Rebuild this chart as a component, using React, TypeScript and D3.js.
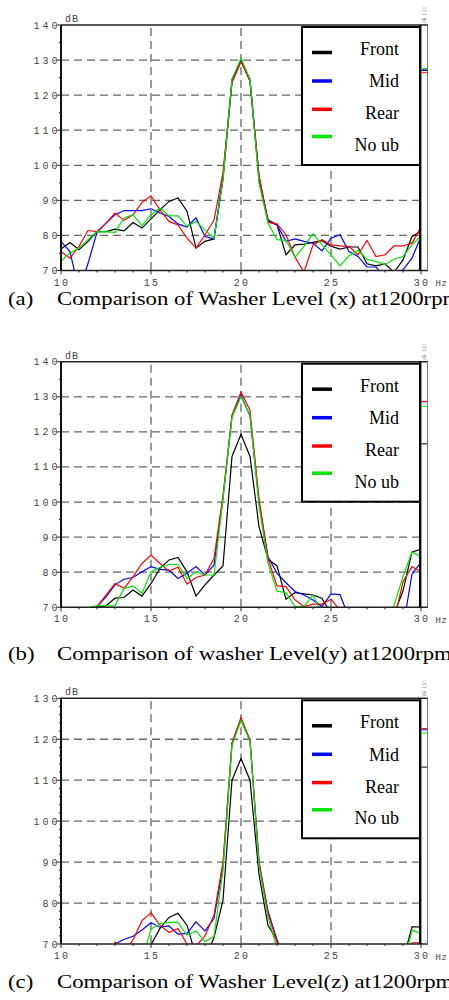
import React from "react";
import * as d3 from "d3";

// frequency bins (Hz)
const HZ = [10, 10.5, 11, 11.5, 12, 12.5, 13, 13.5, 14, 14.5, 15, 15.5, 16, 16.5, 17, 17.5, 18, 18.5, 19, 19.5,
  20, 20.5, 21, 21.5, 22, 22.5, 23, 23.5, 24, 24.5, 25, 25.5, 26, 26.5, 27, 27.5, 28, 28.5, 29, 29.5, 30];

// (a) level x, dB
const frontX = [76.1, 78, 75.9, 78.3, 81.1, 81.1, 81.8, 81.3, 83.7, 82.1, 84.7, 87.3, 89.7, 90.7, 86.9, 76.4, 78.3, 79, 96, 124,
  130, 124, 96, 84.5, 83, 74.5, 77.3, 77.5, 78, 78.5, 76.9, 76.1, 76.7, 76.7, 71.9, 71.3, 71.9, 69.5, 73, 79.7, 81.1];
const midX = [78.3, 75.4, 64, 72, 80.9, 83.5, 85.9, 87.1, 87.1, 87.1, 87.6, 86.4, 85.4, 83.3, 82.4, 85, 79.7, 79, 97, 124.5,
  130, 124.5, 97, 84, 83, 78.3, 79, 78.3, 77.8, 75.6, 79.2, 80.2, 75.4, 74, 71, 71, 68, 68.8, 70.2, 73.5, 79.7];
const rearX = [75.4, 73.5, 76.9, 81.4, 81.1, 83.5, 86.4, 84.3, 85.9, 89.4, 91.3, 87.3, 84, 83, 79.2, 76.4, 80.2, 84.3, 98, 123.5,
  129.5, 124, 97, 83.7, 83.3, 80.2, 73.8, 69.5, 77.3, 78.8, 77.3, 77, 76.9, 74.5, 78.6, 74, 74.5, 77, 77, 77.8, 82.4];
const noubX = [72.6, 75, 76.4, 78.8, 81.1, 81, 80.9, 85, 85.9, 82.8, 85.9, 87.8, 85.6, 85.6, 82.6, 84, 81.6, 79.2, 96, 124.5,
  130.5, 124.5, 95, 83.5, 78.8, 78.6, 73.8, 76.9, 80.5, 77.3, 74.5, 71.3, 74.2, 75.7, 73.2, 72.6, 71.6, 73.2, 74, 77.3, 79.9];

// (b) level y, dB
const frontY = [64, 65, 66, 68, 70, 70.4, 72.6, 72.8, 74.9, 73.2, 76.8, 81.1, 83.5, 84.2, 80.1, 73.2, 76.4, 79.2, 81.8, 113,
  119.3, 113, 93, 83.7, 81.8, 72.3, 74.2, 73.8, 73.5, 72.6, 68, 64, 62, 62, 62, 62, 62, 68, 74.7, 85.8, 86.5];
const midY = [62, 63, 64, 66, 70.2, 73, 76.4, 78, 78.5, 80.1, 81.6, 80.8, 80.6, 78.2, 79.7, 81.6, 79.2, 82, 101, 124.5,
  130.5, 124.5, 100, 84.4, 79.7, 77, 74.5, 73.5, 72.1, 70.2, 73.8, 73.6, 67, 62, 62, 62, 62, 62, 64, 79.5, 82.8];
const rearY = [62, 63, 64, 66, 70.2, 73.5, 76.8, 75.4, 78.7, 82.5, 84.9, 82.5, 80.3, 81.4, 76.6, 78.5, 79.2, 83.9, 102, 124.8,
  131.4, 126.2, 101, 83.9, 76.1, 75.9, 72.1, 70.2, 70.9, 70.9, 72.3, 69.2, 64, 62, 62, 62, 62, 66, 77.3, 81.6, 80.1];
const noubY = [62, 63, 64, 69.8, 70.5, 70.4, 70.5, 75.4, 76.1, 74, 80.1, 81.4, 82.2, 82.2, 78.2, 80.1, 79.2, 79.2, 101, 124.2,
  130, 124.8, 99, 82.5, 74.6, 74.2, 70.2, 70.2, 73.5, 68, 64, 62, 62, 62, 62, 62, 67, 70.5, 78.7, 85.8, 84.4];

// (c) level z, dB
const frontZ = [60, 60, 60, 60, 60, 60, 60, 60, 62, 64, 69.8, 73.8, 76.5, 77.5, 74.6, 67, 66, 71.6, 80.7, 110,
  115.3, 110, 87, 74.5, 71, 65, 60, 60, 60, 60, 60, 60, 60, 60, 60, 60, 60, 60, 66, 74.2, 74.2];
const midZ = [60, 60, 60, 60, 60, 62, 70, 71.1, 71.9, 73.4, 75.2, 74.1, 74.4, 72.4, 72.6, 75.4, 73.2, 76.2, 89, 119,
  124.8, 119.8, 90, 78, 71, 62, 60, 60, 60, 60, 60, 60, 60, 60, 60, 60, 60, 60, 60, 66, 70.2];
const rearZ = [60, 60, 60, 60, 60, 62, 70.5, 68, 71, 75.7, 77.6, 74.6, 72.8, 73.8, 70, 69.5, 72, 77.1, 90, 119.1,
  125.3, 119.8, 90, 77.5, 70.5, 64, 60, 60, 60, 60, 60, 60, 60, 60, 60, 60, 60, 60, 64, 70.3, 70.3];
const noubZ = [60, 60, 60, 60, 60, 60, 60, 60, 62, 66, 73.6, 75, 75.3, 75.3, 72.2, 73.2, 70.6, 71.8, 88, 118.5,
  124.6, 119.5, 89, 76.5, 69, 62, 60, 60, 60, 60, 60, 60, 60, 60, 60, 60, 60, 60, 64, 73.4, 72.6];

// overall level bars at the right edge [front, mid, rear, no ub]
const levelX = [127.0, 127.2, 126.4, 127.6];
const levelY = [116.6, 128.6, 128.7, 127.3];
const levelZ = [113.2, 122.3, 122.6, 121.5];

const seriesNames = ["Front", "Mid", "Rear", "No ub"];
const seriesColors = ["#000000", "#0000ff", "#ff0000", "#00e600"];
const xTicks = [10, 15, 20, 25, 30];
const xGrid = [15, 20, 25];

const panels = [
  { key: "a", series: [frontX, midX, rearX, noubX], levels: levelX, yMax: 140, top: 25, bottom: 270.5, minor: 5,
    tag: "(a)", caption: "Comparison of Washer Level (x) at1200rpm", capY: 305 },
  { key: "b", series: [frontY, midY, rearY, noubY], levels: levelY, yMax: 140, top: 361.7, bottom: 607.3, minor: 5,
    tag: "(b)", caption: "Comparison of washer Level(y) at1200rpm", capY: 660 },
  { key: "c", series: [frontZ, midZ, rearZ, noubZ], levels: levelZ, yMax: 130, top: 698.3, bottom: 944, minor: 2,
    tag: "(c)", caption: "Comparison of Washer Level(z) at1200rpm", capY: 988 },
];

const LEFT = 61;
const RIGHT = 421;
const STRIP = 428;
const mono = "'Liberation Mono', 'DejaVu Sans Mono', monospace";
const serif = "'Liberation Serif', 'DejaVu Serif', serif";

const x = d3.scaleLinear().domain([10, 30]).range([LEFT, RIGHT]);

function Panel({ p }: { p: typeof panels[number] }) {
  const y = d3.scaleLinear().domain([70, p.yMax]).range([p.bottom, p.top]);
  const line = d3.line<number>().x((_, i) => x(HZ[i])).y((d) => y(d));
  const major = d3.range(70, p.yMax + 1, 10);
  const minor = d3.range(70, p.yMax + 0.01, p.minor).filter((v) => v % 10 !== 0);
  const xMinor = d3.range(11, 30, 1).filter((v) => v % 5 !== 0);
  const clipId = "clip-" + p.key;
  const lx = 302, lw = 118;
  const swatchRows = [27.5, 56, 84.3, 111.5];
  const textRows = [30, 62.3, 94.3, 126];
  return (
    <g>
      <defs>
        <clipPath id={clipId}>
          <rect x={LEFT} y={p.top} width={RIGHT - LEFT} height={p.bottom - p.top} />
        </clipPath>
      </defs>
      {/* grid */}
      {major.filter((v) => v > 70 && v < p.yMax).map((v) => (
        <line key={"h" + v} x1={LEFT} x2={RIGHT} y1={y(v)} y2={y(v)} stroke="#666" strokeWidth={1.3} strokeDasharray="8 5" />
      ))}
      {xGrid.map((v) => (
        <line key={"v" + v} x1={x(v)} x2={x(v)} y1={p.top + 3} y2={p.bottom} stroke="#666" strokeWidth={1.3} strokeDasharray="8 5" />
      ))}
      {/* curves */}
      <g clipPath={`url(#${clipId})`}>
        {p.series.map((s, i) => (
          <path key={i} d={line(s) ?? ""} fill="none" stroke={seriesColors[i]} strokeWidth={1.2} />
        ))}
      </g>
      {/* frame */}
      <line x1={LEFT} x2={STRIP} y1={p.top} y2={p.top} stroke="#222" strokeWidth={1.5} />
      <line x1={LEFT} x2={STRIP} y1={p.bottom} y2={p.bottom} stroke="#222" strokeWidth={1.5} />
      <line x1={LEFT} x2={LEFT} y1={p.top} y2={p.bottom} stroke="#111" strokeWidth={2} />
      <line x1={RIGHT - 0.8} x2={RIGHT - 0.8} y1={p.top} y2={p.bottom} stroke="#000" strokeWidth={2.4} />
      <line x1={STRIP - 0.5} x2={STRIP - 0.5} y1={p.top} y2={p.bottom} stroke="#777" strokeWidth={1} />
      {p.levels.map((v, i) => (
        <line key={"lv" + i} x1={RIGHT + 0.5} x2={STRIP - 1} y1={y(v)} y2={y(v)} stroke={seriesColors[i]} strokeWidth={1} />
      ))}
      <text transform={`translate(${STRIP - 2},${p.top - 2}) rotate(-90)`} fontFamily={mono} fontSize={4.5} fill="#888">dB Lin</text>
      {/* y ticks */}
      {major.map((v) => (
        <g key={"yt" + v}>
          <line x1={LEFT - 4} x2={LEFT} y1={y(v)} y2={y(v)} stroke="#222" strokeWidth={1} />
          <text x={LEFT - 0.5} y={y(v) + 3.5} textAnchor="end" fontFamily={mono} fontSize={10} letterSpacing={3} fill="#444">{v}</text>
        </g>
      ))}
      {minor.map((v) => (
        <line key={"ym" + v} x1={LEFT - 2} x2={LEFT} y1={y(v)} y2={y(v)} stroke="#222" strokeWidth={1} />
      ))}
      <text x={LEFT + 4} y={p.top - 3} fontFamily={mono} fontSize={10} letterSpacing={1} fill="#444">dB</text>
      {/* x ticks */}
      {xTicks.map((v) => (
        <g key={"xt" + v}>
          <line x1={x(v)} x2={x(v)} y1={p.bottom} y2={p.bottom + 4} stroke="#222" strokeWidth={1} />
          <text x={x(v) + 1} y={p.bottom + 15} textAnchor="middle" fontFamily={mono} fontSize={10} letterSpacing={2.2} fill="#444">{v}</text>
        </g>
      ))}
      {xMinor.map((v) => (
        <line key={"xm" + v} x1={x(v)} x2={x(v)} y1={p.bottom} y2={p.bottom + 2} stroke="#222" strokeWidth={1} />
      ))}
      <text x={435.5} y={p.bottom + 15.5} fontFamily={mono} fontSize={9} letterSpacing={0.5} fill="#444">Hz</text>
      {/* legend */}
      <rect x={lx} y={p.top + 2} width={lw} height={138} fill="#fff" stroke="#000" strokeWidth={2} />
      {seriesNames.map((n, i) => (
        <g key={n}>
          <line x1={lx + 10} x2={lx + 30} y1={p.top + swatchRows[i]} y2={p.top + swatchRows[i]} stroke={seriesColors[i]} strokeWidth={3.5} />
          <text x={lx + 97} y={p.top + textRows[i]} textAnchor="end" fontFamily={serif} fontSize={18} fill="#000">{n}</text>
        </g>
      ))}
      {/* caption (runs past the right edge, as in the source figure) */}
      <text transform={`translate(8,${p.capY}) scale(1.2,1)`} fontFamily={serif} fontSize={19} fill="#000">{p.tag}</text>
      <text transform={`translate(57,${p.capY}) scale(1.2,1)`} fontFamily={serif} fontSize={19} fill="#000">{p.caption}</text>
    </g>
  );
}

export default function App() {
  return (
    <svg width={449} height={1000} style={{ position: "absolute", left: 0, top: 0, background: "#fff" }}>
      {panels.map((p) => (
        <Panel key={p.key} p={p} />
      ))}
    </svg>
  );
}
